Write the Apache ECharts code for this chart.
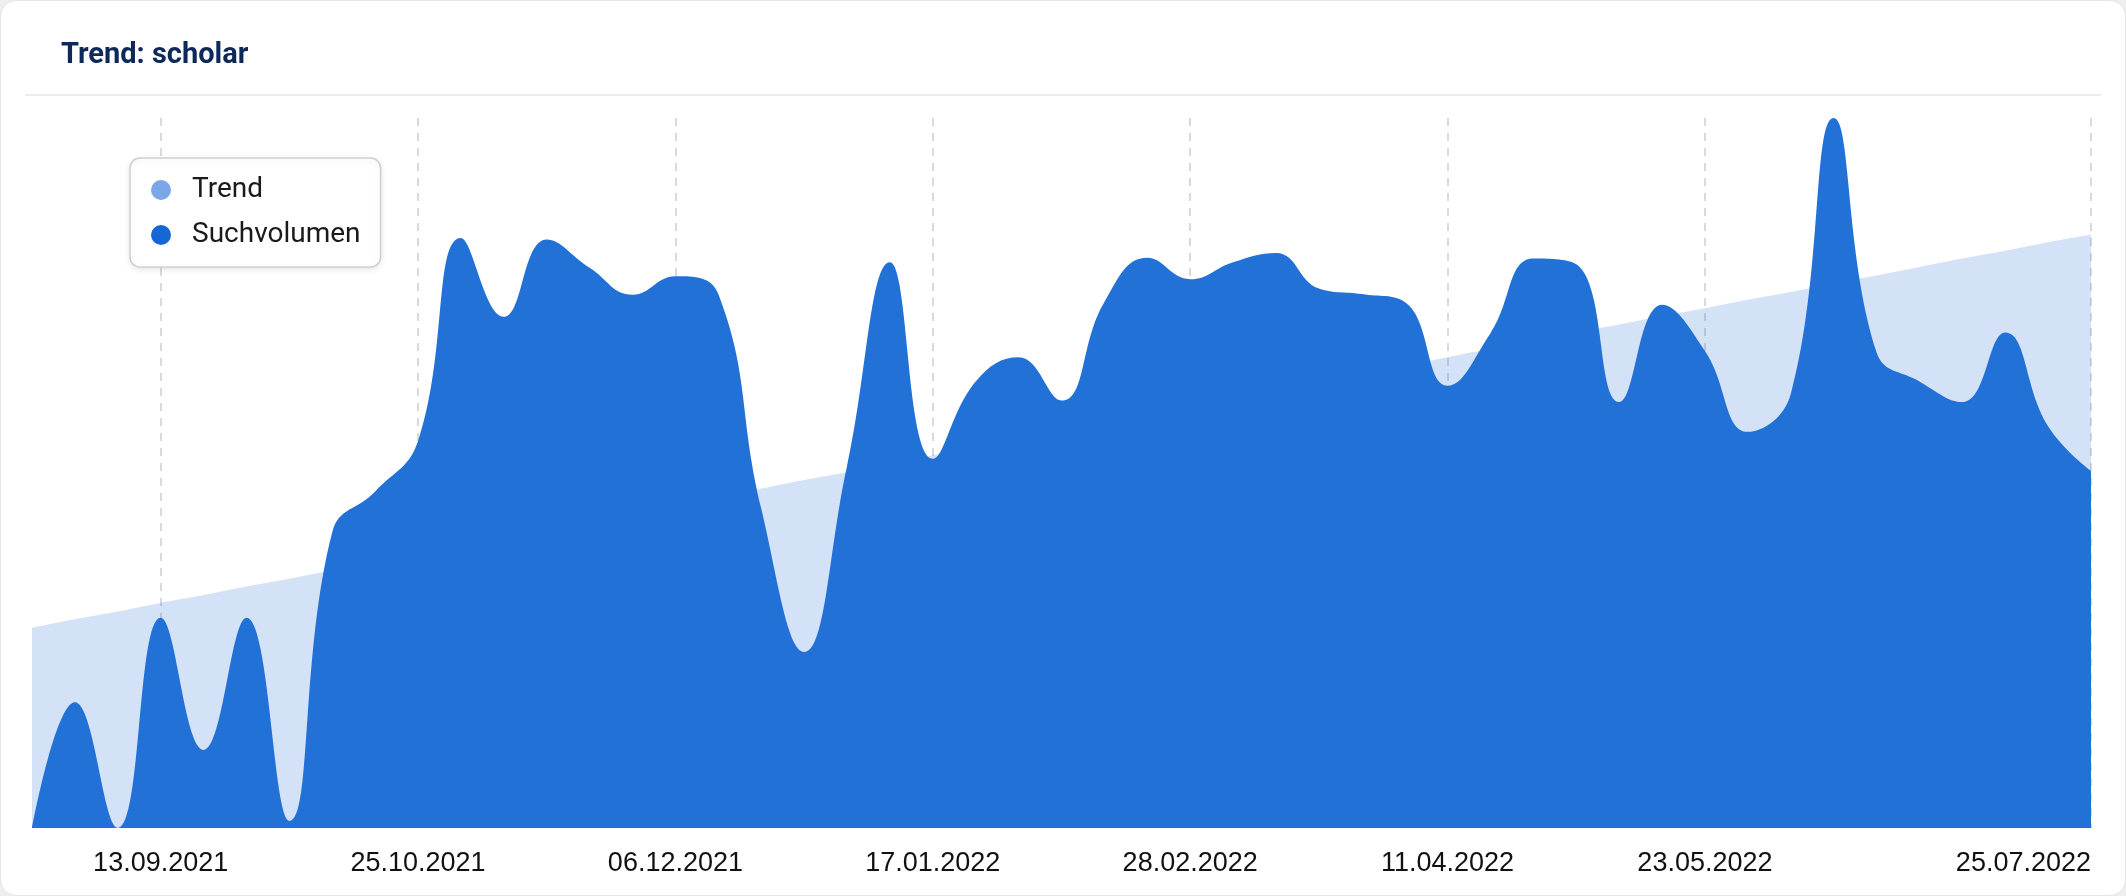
<!DOCTYPE html>
<html>
<head>
<meta charset="utf-8">
<script src="https://cdn.jsdelivr.net/npm/echarts@6/dist/echarts.min.js"></script>
<style>
  html, body { margin: 0; padding: 0; background: #eeeeee; }
  #card { position: absolute; left: 0; top: 0; width: 2124px; height: 894px; background: #ffffff;
          border: 1px solid #e4e4e4; border-radius: 16px; overflow: hidden; }
  #chart { width: 2124px; height: 894px; }
</style>
</head>
<body>
<div id="card"><div id="chart"></div></div>
<script>
// Weekly categories
const weeks = [
  '23.08.2021','30.08.2021','06.09.2021','13.09.2021','20.09.2021','27.09.2021','04.10.2021','11.10.2021',
  '18.10.2021','25.10.2021','01.11.2021','08.11.2021','15.11.2021','22.11.2021','29.11.2021','06.12.2021',
  '13.12.2021','20.12.2021','27.12.2021','03.01.2022','10.01.2022','17.01.2022','24.01.2022','31.01.2022',
  '07.02.2022','14.02.2022','21.02.2022','28.02.2022','07.03.2022','14.03.2022','21.03.2022','28.03.2022',
  '04.04.2022','11.04.2022','18.04.2022','25.04.2022','02.05.2022','09.05.2022','16.05.2022','23.05.2022',
  '30.05.2022','06.06.2022','13.06.2022','20.06.2022','27.06.2022','04.07.2022','11.07.2022','18.07.2022',
  '25.07.2022'
];
// Tick labels shown on the x axis
const tickLabels = ['13.09.2021','25.10.2021','06.12.2021','17.01.2022','28.02.2022','11.04.2022','23.05.2022','25.07.2022'];
// Search volume (relative index, peak = 100)
const suchvolumen = [
  0, 17.7, 0, 29.6, 11.0, 29.6, 1.0, 41.7,
  47.4, 54.5, 83.1, 72.0, 82.9, 78.9, 75.1, 77.7,
  75.2, 45.0, 24.8, 51.0, 79.7, 52.0, 62.9, 66.3,
  60.2, 74.1, 80.3, 77.3, 79.7, 81.0, 76.0, 75.2,
  74.1, 62.3, 69.7, 80.2, 79.4, 60.0, 73.7, 67.2,
  55.8, 61.1, 100, 67.0, 62.9, 60.0, 69.8, 56.6,
  50.3
];
// Trend line values
const trend = [
  28.2, 29.4, 30.5, 31.7, 32.8, 34.0, 35.1, 36.3,
  37.4, 38.6, 39.8, 40.9, 42.1, 43.2, 44.4, 45.5,
  46.7, 47.8, 49.0, 50.1, 51.3, 52.5, 53.6, 54.8,
  55.9, 57.1, 58.2, 59.4, 60.5, 61.7, 62.8, 64.0,
  65.1, 66.3, 67.5, 68.6, 69.8, 70.9, 72.1, 73.2,
  74.4, 75.5, 76.7, 77.8, 79.0, 80.2, 81.3, 82.5,
  83.6
];

const isTick = function (idx, val) { return tickLabels.indexOf(val) >= 0; };

const chart = echarts.init(document.getElementById('chart'), null, { renderer: 'canvas' });
chart.setOption({
  animation: false,
  title: {
    text: 'Trend: scholar',
    left: 55, top: 35,
    textStyle: { fontFamily: 'Roboto', fontWeight: 'bold', fontSize: 29, lineHeight: 30, color: '#0d2859' }
  },
  graphic: [{
    type: 'line', shape: { x1: 24, y1: 94, x2: 2100, y2: 94 },
    style: { stroke: '#ececec', lineWidth: 2 }, silent: true
  }],
  legend: {
    orient: 'vertical',
    left: 129, top: 157,
    data: ['Trend', 'Suchvolumen'],
    icon: 'circle',
    itemWidth: 20, itemHeight: 20, itemGap: 17,
    padding: [18, 20, 18, 21],
    backgroundColor: '#ffffff',
    borderColor: '#cfcfcf', borderWidth: 1.5, borderRadius: 10,
    shadowBlur: 6, shadowColor: 'rgba(0,0,0,0.10)', shadowOffsetY: 2,
    textStyle: { fontFamily: 'Roboto', fontSize: 28, lineHeight: 28, color: '#1a1a1a', padding: [0, 0, 0, 16] }
  },
  grid: { left: 31, right: 34, top: 117, bottom: 67, containLabel: false },
  xAxis: {
    type: 'category',
    data: weeks,
    boundaryGap: false,
    axisLine: { show: false },
    axisTick: { show: false },
    axisLabel: {
      interval: isTick,
      margin: 22,
      fontFamily: 'Liberation Sans', fontSize: 27, color: '#111111',
      alignMaxLabel: 'right', showMaxLabel: true
    },
    splitLine: {
      show: true, interval: isTick,
      lineStyle: { color: '#dadada', width: 2, type: [8, 7] }
    }
  },
  yAxis: { type: 'value', min: 0, max: 100, show: false, splitLine: { show: false } },
  series: [
    {
      name: 'Trend', type: 'line', data: trend, smooth: 0.5,
      showSymbol: false, symbol: 'none',
      itemStyle: { color: '#7ba7e8' },
      lineStyle: { width: 0 },
      areaStyle: { color: 'rgba(34,112,214,0.2)', opacity: 1 },
      z: 2
    },
    {
      name: 'Suchvolumen', type: 'line', data: suchvolumen, smooth: 0.45,
      showSymbol: false, symbol: 'none',
      itemStyle: { color: '#1566d6' },
      lineStyle: { width: 0 },
      areaStyle: { color: '#2271d6', opacity: 1 },
      z: 3
    }
  ]
});
</script>
</body>
</html>
